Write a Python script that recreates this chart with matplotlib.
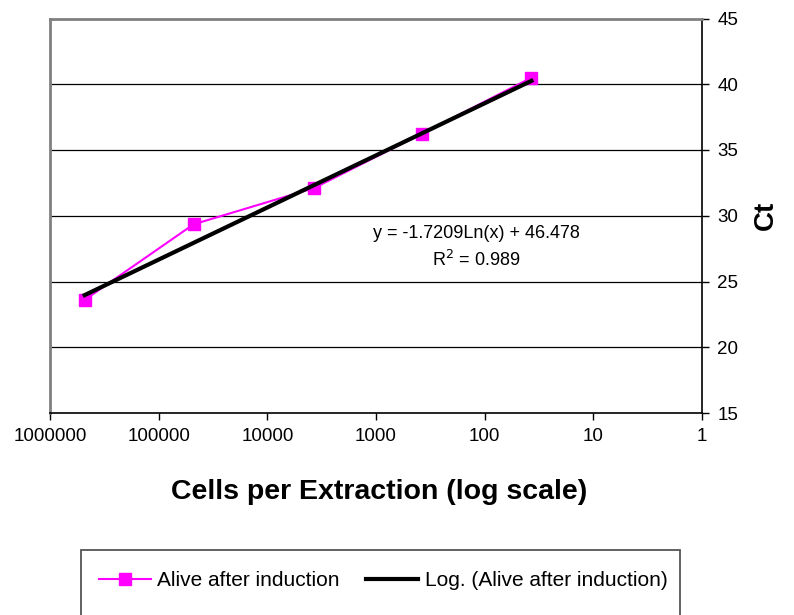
import numpy as np
import matplotlib
matplotlib.use("Agg")
import matplotlib.pyplot as plt
from matplotlib.lines import Line2D
from matplotlib.patches import Rectangle
from matplotlib.ticker import FixedLocator, FixedFormatter, NullLocator

plt.rcParams['font.family'] = ['Liberation Sans', 'DejaVu Sans']

# data
cells = [480000, 47700, 3730, 376, 37.1]
ct = [23.6, 29.35, 32.1, 36.25, 40.5]
series_label = "Alive after induction"
trend_label = "Log. (Alive after induction)"
trend_a = -1.7209
trend_b = 46.478
r2 = 0.989
x_ticks = [1000000, 100000, 10000, 1000, 100, 10, 1]
x_tick_labels = ["1000000", "100000", "10000", "1000", "100", "10", "1"]
y_ticks = [15, 20, 25, 30, 35, 40, 45]

W, H = 794, 615
fig = plt.figure(figsize=(W / 100, H / 100), dpi=100)
ax = fig.add_axes([50 / W, 1 - 413 / H, (702 - 50) / W, (413 - 18.5) / H])

ax.set_xscale('log')
ax.set_xlim(1e6, 1)
ax.set_ylim(15, 45)

# gridlines
for y in y_ticks[1:-1]:
    ax.axhline(y, color='black', lw=0.9, zorder=1)

# series
ax.plot(cells, ct, color='#FF00FF', lw=1.5, marker='s', markersize=9,
        markeredgecolor='#FF00FF', zorder=3)

# trendline
xt = np.logspace(np.log10(min(cells)), np.log10(max(cells)), 200)
yt = trend_a * np.log(xt) + trend_b
ax.plot(xt, yt, color='black', lw=3, zorder=4)

# ticks
ax.xaxis.set_major_locator(FixedLocator(x_ticks))
ax.xaxis.set_major_formatter(FixedFormatter(x_tick_labels))
ax.xaxis.set_minor_locator(NullLocator())
ax.yaxis.tick_right()
ax.yaxis.set_major_locator(FixedLocator(y_ticks))
ax.tick_params(axis='both', labelsize=13.5, length=5, width=1, direction='out', color='black')
ax.tick_params(axis='x', pad=6)
ax.tick_params(axis='y', pad=6)

for s in ['top', 'left']:
    ax.spines[s].set_color('#808080')
    ax.spines[s].set_linewidth(2)
for s in ['bottom', 'right']:
    ax.spines[s].set_color('black')
    ax.spines[s].set_linewidth(1.2)

# equation text
ax.text(476 / W, 1 - 233 / H, "y = -1.7209Ln(x) + 46.478", transform=fig.transFigure,
        ha='center', va='center', fontsize=13)
ax.text(476 / W, 1 - 260 / H, r"R$^2$ = 0.989", transform=fig.transFigure,
        ha='center', va='center', fontsize=13)

# axis titles
fig.text(379 / W, 1 - 492 / H, "Cells per Extraction (log scale)", ha='center', va='center',
         fontsize=20.5, fontweight='bold')
fig.text(766 / W, 1 - 215 / H, "Ct", ha='center', va='center', rotation=90,
         fontsize=20, fontweight='bold')

# legend
box = Rectangle((81 / W, 1 - 650 / H), (680 - 81) / W, 100 / H, transform=fig.transFigure,
                fill=False, edgecolor='#555555', lw=1.3, clip_on=False)
fig.add_artist(box)
handles = [Line2D([], [], color='#FF00FF', lw=1.5, marker='s', markersize=9),
           Line2D([], [], color='black', lw=3)]
fig.legend(handles, [series_label, trend_label], ncol=2, frameon=False,
           loc='center', bbox_to_anchor=(383 / W, 1 - 581 / H), fontsize=15,
           handlelength=2.5, handletextpad=0.3, columnspacing=1.3)

fig.savefig("out.png", dpi=100)
